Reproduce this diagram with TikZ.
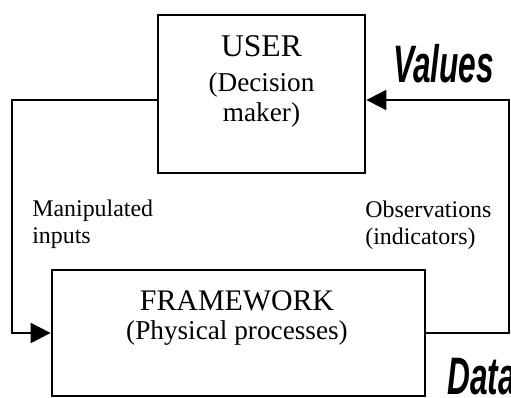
\documentclass[tikz,border=0pt]{standalone}
\usepackage{fontspec}
\setmainfont{Liberation Serif}
\newfontfamily\tagfont{Liberation Sans}
\usetikzlibrary{arrows.meta,positioning}

\begin{document}
\begin{tikzpicture}[
    x=0.02cm, y=-0.02cm,
    blockbox/.style={
      draw=black,
      line width=1.6pt,
      inner sep=0pt
    },
    heading/.style={
      align=center,
      inner sep=0pt,
      font=\fontsize{15.5}{17}\selectfont
    },
    sidenote/.style={
      align=left,
      inner sep=0pt,
      font=\fontsize{13.6}{15.4}\selectfont
    },
    bigtag/.style={
      inner sep=0pt,
      font=\tagfont\bfseries\itshape\fontsize{30}{32}\selectfont
    },
    link/.style={line width=1.1pt, draw=black},
    arrow/.style={link, -{Triangle[length=0.4cm, width=0.4cm]}}
  ]
    \clip (0,0) rectangle (511,398);
    \fill[white] (0,0) rectangle (511,398);

    \node[blockbox, minimum width=4.14cm, minimum height=3.16cm]
      (user) at (261.5,94) {};
    \node[blockbox, minimum width=7.46cm, minimum height=2.52cm]
      (frame) at (238.5,333) {};

    \node[heading, anchor=north] (usertext) at (261.5,35)
      {{\fontsize{18}{18}\selectfont USER}\\[3pt](Decision\\maker)};
    \node[heading, anchor=north] (frametext) at (237,290)
      {{\fontsize{17}{12.8}\selectfont FRAMEWORK}\\(Physical processes)};

    \node[sidenote, anchor=north west] (inputs) at (32,200)
      {Manipulated\\inputs};
    \node[sidenote, anchor=north west] (observe) at (365,201)
      {Observations\\(indicators)};

    \node[bigtag, anchor=base west] (values) at (393,83)
      {\scalebox{0.6}[1]{Values}};
    \node[bigtag, anchor=base west] (data) at (447,395)
      {\scalebox{0.6}[1]{Data}};

    \coordinate (lturn) at (12,100);
    \coordinate (rturn) at (509,100);

    \draw[arrow] (user.west |- lturn) -- (lturn) |- (frame.west);
    \draw[arrow] (frame.east) -| (rturn) -- (user.east |- rturn);
  \end{tikzpicture}
\end{document}
